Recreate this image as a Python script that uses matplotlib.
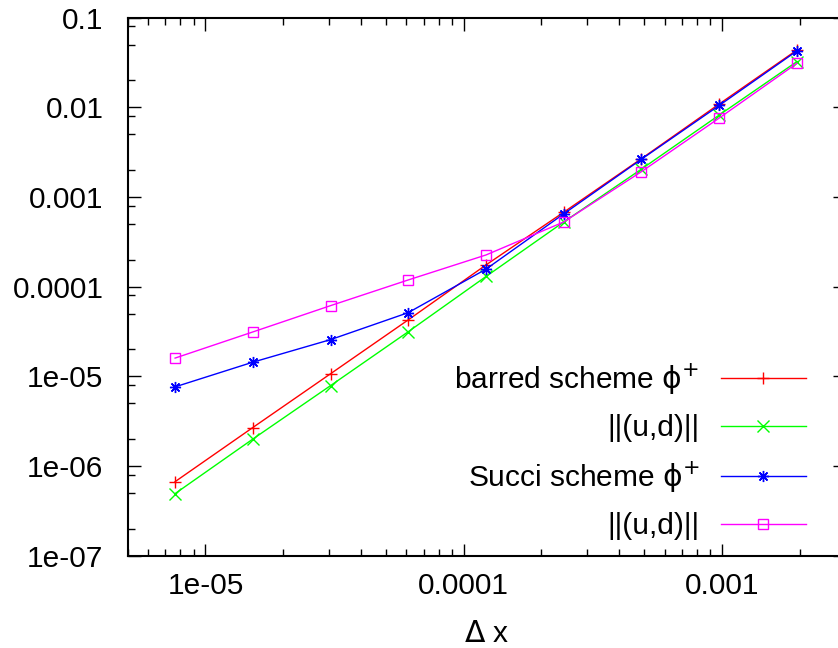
"""
Convergence plot: error vs grid spacing for the barred and Succi schemes.
"""

import matplotlib
matplotlib.use("Agg")
import numpy as np
from matplotlib import pyplot as plt
from matplotlib.ticker import LogLocator, FixedLocator, FuncFormatter, NullFormatter

plt.rcParams["font.family"] = ["Liberation Sans", "DejaVu Sans"]
plt.rcParams["mathtext.fontset"] = "dejavusans"

# Grid spacings (2^-17 ... 2^-9)
dx = [7.63e-6, 1.526e-5, 3.052e-5, 6.104e-5, 1.221e-4, 2.441e-4, 4.883e-4, 9.766e-4, 1.953e-3]

# Errors
barred_phi = [6.7e-7, 2.69e-6, 1.07e-5, 4.27e-5, 1.75e-4, 6.77e-4, 2.68e-3, 1.09e-2, 4.36e-2]
barred_ud = [4.93e-7, 2.0e-6, 7.89e-6, 3.15e-5, 1.30e-4, 5.27e-4, 2.05e-3, 8.2e-3, 3.24e-2]
succi_phi = [7.64e-6, 1.44e-5, 2.57e-5, 5.14e-5, 1.57e-4, 6.49e-4, 2.64e-3, 1.05e-2, 4.26e-2]
succi_ud = [1.6e-5, 3.13e-5, 6.15e-5, 1.19e-4, 2.26e-4, 5.27e-4, 1.92e-3, 7.6e-3, 3.1e-2]

labels = [r"barred scheme $\mathrm{\phi}^{+}$", "||(u,d)||",
          r"Succi scheme $\mathrm{\phi}^{+}$", "||(u,d)||"]
colors = ["#ff0000", "#00ff00", "#0000ff", "#ff00ff"]

xticks = [1e-5, 1e-4, 1e-3]
yticks = [1e-7, 1e-6, 1e-5, 1e-4, 1e-3, 1e-2, 1e-1]

FS = 21.5

fig = plt.figure(figsize=(8.38, 6.48), dpi=100)
# the right edge of the frame falls just outside the picture
ax = fig.add_axes([0.1524, 0.1424, 0.8560, 0.8303])

series = [barred_phi, barred_ud, succi_phi, succi_ud]
markers = ["+", "x", (8, 2, 0), "s"]
for y, lab, c, m in zip(series, labels, colors, markers):
    ax.plot(dx, y, color=c, lw=1.0, marker=m, ms=8 if m != "s" else 6.5,
            mfc="none", mec=c, mew=1.0, label=lab)

ax.set_xscale("log")
ax.set_yscale("log")
ax.set_xlim(5e-6, 3e-3)
ax.set_ylim(1e-7, 0.1)

fmt = FuncFormatter(lambda v, p: "%g" % v)
ax.xaxis.set_major_locator(FixedLocator(xticks))
ax.xaxis.set_minor_locator(LogLocator(base=10, subs=np.arange(2, 10), numticks=20))
ax.yaxis.set_major_locator(FixedLocator(yticks))
ax.yaxis.set_minor_locator(LogLocator(base=10, subs=[2, 5, 8], numticks=20))
ax.xaxis.set_major_formatter(fmt)
ax.yaxis.set_major_formatter(fmt)
ax.xaxis.set_minor_formatter(NullFormatter())
ax.yaxis.set_minor_formatter(NullFormatter())

ax.tick_params(which="both", direction="in", top=True, right=True, labelsize=FS, width=1.0)
ax.tick_params(which="major", length=9)
ax.tick_params(which="minor", length=5)
ax.tick_params(axis="x", pad=12)
ax.tick_params(axis="y", pad=17.5)
for s in ax.spines.values():
    s.set_linewidth(1.5)

ax.set_xlabel(r"$\mathrm{\Delta}$ x", fontsize=FS, labelpad=14)

ax.legend(loc="lower right", bbox_to_anchor=(806 / 838, 1 - 540 / 648),
          bbox_transform=fig.transFigure, frameon=False, markerfirst=False,
          fontsize=FS, handlelength=2.85, handletextpad=0.72, labelspacing=0.58,
          borderpad=0, borderaxespad=0)

fig.savefig("out.png", dpi=100)
